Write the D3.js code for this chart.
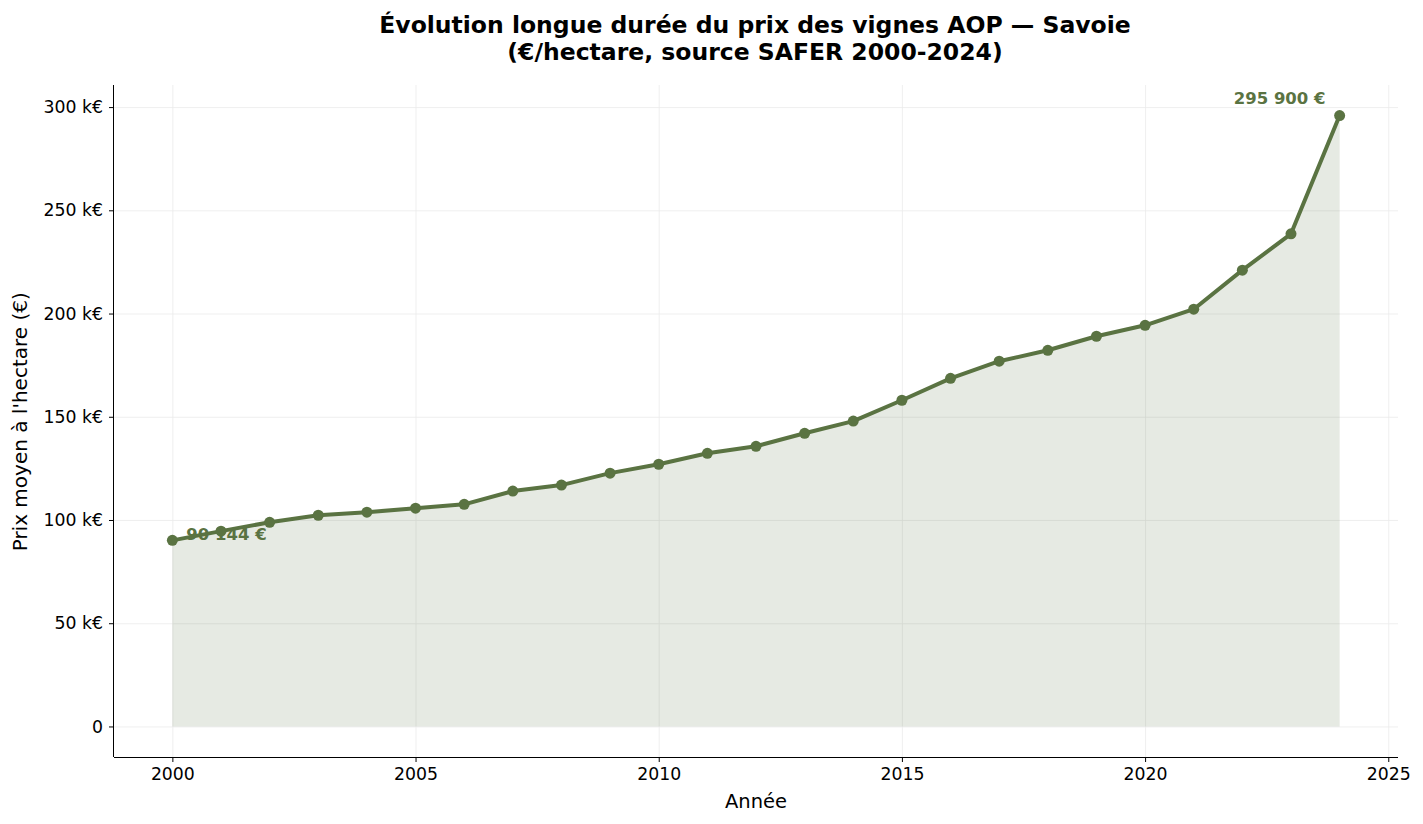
<!DOCTYPE html>
<meta charset="utf-8" />
<title>Prix des vignes AOP — Savoie</title>
<style>
  body { margin: 0; background: #fff; }
  svg { font-family: "DejaVu Sans", sans-serif; }
  .grid line { stroke: #ebebeb; stroke-width: 0.8; }
  .grid path { display: none; }
  .axis path, .axis line { stroke: #000; }
</style>
<body>
<script src="https://d3js.org/d3.v7.min.js"></script>
<script>
  // données SAFER
  var years = [2000, 2001, 2002, 2003, 2004, 2005, 2006, 2007, 2008, 2009, 2010, 2011, 2012,
    2013, 2014, 2015, 2016, 2017, 2018, 2019, 2020, 2021, 2022, 2023, 2024];
  var prices = [90144, 94600, 98900, 102300, 103800, 105700, 107600, 114000, 116900, 122700,
    127000, 132300, 135700, 142000, 147900, 158000, 168600, 176900, 182200, 189000, 194300,
    202100, 221000, 238600, 295900];
  var xTicks = [2000, 2005, 2010, 2015, 2020, 2025];
  var yTicks = [0, 50000, 100000, 150000, 200000, 250000, 300000];

  var green = "#5a7342";

  var margin = { top: 85, right: 25, bottom: 67, left: 114 },
    width = 1423 - margin.left - margin.right,
    height = 824 - margin.top - margin.bottom;

  var data = years.map(function(y, i) { return { year: y, value: prices[i] }; });

  var svg = d3.select("body").append("svg")
    .attr("width", 1423)
    .attr("height", 824);

  var g = svg.append("g")
    .attr("transform", "translate(" + margin.left + "," + margin.top + ")");

  // marges de 5% comme matplotlib
  var xPad = (2024 - 2000) * 0.05;
  var yMax = d3.max(prices), yPad = yMax * 0.05;
  var x = d3.scaleLinear().domain([2000 - xPad, 2024 + xPad]).range([0, width]);
  var y = d3.scaleLinear().domain([-yPad, yMax + yPad]).range([height, 0]);

  // grille
  g.append("g").attr("class", "grid")
    .attr("transform", "translate(0," + height + ")")
    .call(d3.axisBottom(x).tickValues(xTicks).tickSize(-height).tickFormat(""));
  g.append("g").attr("class", "grid")
    .call(d3.axisLeft(y).tickValues(yTicks).tickSize(-width).tickFormat(""));

  // aire
  g.append("path")
    .datum(data)
    .attr("fill", green)
    .attr("fill-opacity", 0.15)
    .attr("d", d3.area()
      .x(function(d) { return x(d.year); })
      .y0(y(0))
      .y1(function(d) { return y(d.value); }));

  // ligne
  g.append("path")
    .datum(data)
    .attr("fill", "none")
    .attr("stroke", green)
    .attr("stroke-width", 4)
    .attr("stroke-linejoin", "round")
    .attr("d", d3.line()
      .x(function(d) { return x(d.year); })
      .y(function(d) { return y(d.value); }));

  g.selectAll("circle.pt")
    .data(data)
    .enter().append("circle")
    .attr("class", "pt")
    .attr("cx", function(d) { return x(d.year); })
    .attr("cy", function(d) { return y(d.value); })
    .attr("r", 5.5)
    .attr("fill", green);

  // axes
  var fmtY = function(d) { return d === 0 ? "0" : (d / 1000) + " k€"; };
  var xAxis = g.append("g").attr("class", "axis")
    .attr("transform", "translate(0," + height + ")")
    .call(d3.axisBottom(x).tickValues(xTicks).tickFormat(d3.format("d")).tickSize(5).tickPadding(6));
  var yAxis = g.append("g").attr("class", "axis")
    .call(d3.axisLeft(y).tickValues(yTicks).tickFormat(fmtY).tickSize(5).tickPadding(6));
  xAxis.select(".domain").attr("d", "M0,0.5H" + width);
  yAxis.select(".domain").attr("d", "M-0.5,0V" + height);
  g.selectAll(".axis").attr("font-family", "DejaVu Sans").attr("font-size", 17.3);
  g.selectAll(".axis text").attr("fill", "#000");

  // annotations début / fin
  var fmtEur = function(v) { return d3.format(",")(v).replace(/,/g, " ") + " €"; };
  var first = data[0], last = data[data.length - 1];
  g.append("text")
    .attr("x", x(first.year) + 14)
    .attr("y", y(first.value) + 0)
    .attr("font-size", 16.5)
    .attr("font-weight", "bold")
    .attr("fill", green)
    .text(fmtEur(first.value));
  g.append("text")
    .attr("x", x(last.year) - 60)
    .attr("y", y(last.value) - 12)
    .attr("text-anchor", "middle")
    .attr("font-size", 16.5)
    .attr("font-weight", "bold")
    .attr("fill", green)
    .text(fmtEur(last.value));

  // titres
  svg.append("text")
    .attr("x", 755).attr("y", 33)
    .attr("text-anchor", "middle")
    .attr("font-size", 23.5).attr("font-weight", "bold")
    .text("Évolution longue durée du prix des vignes AOP — Savoie");
  svg.append("text")
    .attr("x", 755).attr("y", 60)
    .attr("text-anchor", "middle")
    .attr("font-size", 23.5).attr("font-weight", "bold")
    .text("(€/hectare, source SAFER 2000-2024)");

  svg.append("text")
    .attr("x", margin.left + width / 2).attr("y", 808)
    .attr("text-anchor", "middle")
    .attr("font-size", 19.5)
    .text("Année");
  svg.append("text")
    .attr("transform", "translate(27," + (margin.top + y(150000) + 5) + ") rotate(-90)")
    .attr("text-anchor", "middle")
    .attr("font-size", 20)
    .text("Prix moyen à l'hectare (€)");
</script>
</body>
